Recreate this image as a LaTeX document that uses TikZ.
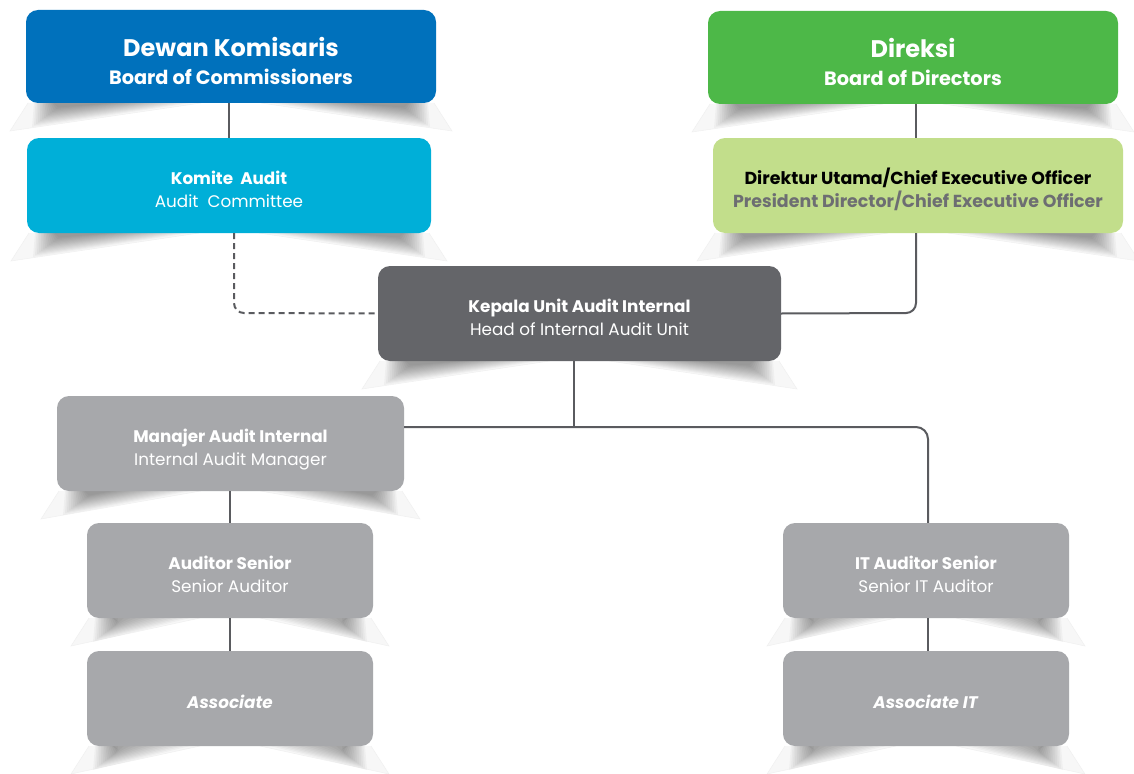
\documentclass[tikz,border=0pt]{standalone}
\usepackage{fontspec}
\setmainfont{Poppins}
\usetikzlibrary{calc}
\definecolor{cblue}{HTML}{0071BC}
\definecolor{ccyan}{HTML}{00AFD8}
\definecolor{cgreen}{HTML}{4DB848}
\definecolor{clgreen}{HTML}{C2DE8B}
\definecolor{cdgray}{HTML}{646569}
\definecolor{cgray}{HTML}{A7A8AB}
\definecolor{cline}{HTML}{5A5B5F}
\definecolor{ctxtgray}{HTML}{6D6E72}
\newcommand\topst[1]{\rule{0pt}{#1}}
\newcommand\botst[1]{\rule[-#1]{0pt}{0pt}}
\tikzset{
  orgbox/.style={rounded corners=12pt, inner sep=0pt, align=center, text=white},
  bigtxt/.style={font=\fontsize{19.3}{28}\selectfont\bfseries},
  smalltxt/.style={font=\fontsize{16.8}{23}\selectfont},
  conn/.style={draw=cline, line width=2pt},
  dconn/.style={draw=cline, line width=2pt, dash pattern=on 6pt off 4pt},
}
\begin{document}
\begin{tikzpicture}[x=1pt,y=-1pt]
\useasboundingbox[fill=white] (0,0) rectangle (1134,773);
% shadows
\foreach \xa/\xb/\yb in {26/436/103, 27/431/233, 708/1118/104, 713/1123/233, 378/781/361, 57/404/491, 87/373/618, 87/373/746, 783/1069/618, 783/1069/746}{
  \pgfmathsetmacro{\cc}{(\xa+\xb)/2}
  \fill[black, opacity=0.03] ({\xa+2},\yb) -- ({\xa-16},{\yb+28}) -- ({\cc-30},\yb) -- cycle;
  \fill[black, opacity=0.03] ({\xb-2},\yb) -- ({\xb+16},{\yb+28}) -- ({\cc+30},\yb) -- cycle;
  \draw[black!6, line width=0.5pt] ({\xa+2},\yb) -- ({\xa-16},{\yb+28}) -- ({\cc-30},\yb);
  \draw[black!6, line width=0.5pt] ({\xb-2},\yb) -- ({\xb+16},{\yb+28}) -- ({\cc+30},\yb);
  \foreach \k in {0,...,13}{
    \fill[black, opacity=0.032] ({\xa+8+1.5*\k},\yb) -- ({\xa+6+2*\k},{\yb+24-1.5*\k}) -- ({\cc-40-6*\k},\yb) -- cycle;
    \fill[black, opacity=0.032] ({\xb-8-1.5*\k},\yb) -- ({\xb-6-2*\k},{\yb+24-1.5*\k}) -- ({\cc+40+6*\k},\yb) -- cycle;
  }
}
% boxes
\node[orgbox, bigtxt, fill=cblue, minimum width=410pt, minimum height=93pt] (dk) at (231,56.5)
  {\topst{34pt}{\fontsize{24}{28}\selectfont Dewan Komisaris}\\Board of Commissioners\botst{6pt}};
\node[orgbox, smalltxt, fill=ccyan, minimum width=404pt, minimum height=95pt] (ka) at (229,185.5)
  {\topst{26pt}\textbf{Komite\ \ Audit}\\Audit\ \ Committee\botst{6pt}};
\node[orgbox, bigtxt, fill=cgreen, minimum width=410pt, minimum height=93pt] (dir) at (913,57.5)
  {\topst{34pt}{\fontsize{24}{28}\selectfont Direksi}\\Board of Directors\botst{6pt}};
\node[orgbox, fill=clgreen, minimum width=410pt, minimum height=95pt, font=\fontsize{17.4}{23}\selectfont\bfseries] (du) at (918,185.5)
  {\topst{26pt}\textcolor{black}{Direktur Utama/Chief Executive Officer}\\\textcolor{ctxtgray}{President Director/Chief Executive Officer}\botst{6pt}};
\node[orgbox, smalltxt, fill=cdgray, minimum width=403pt, minimum height=95pt] (kua) at (579.5,313.5)
  {\topst{26pt}\textbf{Kepala Unit Audit Internal}\\Head of Internal Audit Unit\botst{6pt}};
\node[orgbox, smalltxt, fill=cgray, minimum width=347pt, minimum height=95pt] (mai) at (230.5,443.5)
  {\topst{26pt}\textbf{Manajer Audit Internal}\\Internal Audit Manager\botst{6pt}};
\node[orgbox, smalltxt, fill=cgray, minimum width=286pt, minimum height=95pt] (as) at (230,570.5)
  {\topst{26pt}\textbf{Auditor Senior}\\Senior Auditor\botst{6pt}};
\node[orgbox, smalltxt, fill=cgray, minimum width=286pt, minimum height=95pt] (asc) at (230,698.5)
  {\topst{25pt}\textbf{\itshape Associate}\botst{6pt}};
\node[orgbox, smalltxt, fill=cgray, minimum width=286pt, minimum height=95pt] (its) at (926,570.5)
  {\topst{26pt}\textbf{IT Auditor Senior}\\Senior IT Auditor\botst{6pt}};
\node[orgbox, smalltxt, fill=cgray, minimum width=286pt, minimum height=95pt] (ait) at (926,698.5)
  {\topst{25pt}\textbf{\itshape Associate IT}\botst{6pt}};
% connectors
\coordinate (c1) at (229,103);
\coordinate (c2) at (916,104);
\coordinate (bend) at (574,427);
\draw[conn] (dk.south -| c1) -- (ka.north -| c1);
\draw[conn] (dir.south -| c2) -- (du.north -| c2);
\draw[dconn, rounded corners=10pt] (ka.south -| 234,0) -- (234,313) -- (kua.west);
\draw[conn, rounded corners=10pt] (du.south -| c2) -- (916,313) -- (kua.east);
\draw[conn] (kua.south -| bend) -- (bend);
\draw[conn, rounded corners=12pt] (mai.east |- bend) -- (928,427) -- (its.north -| 928,0);
\draw[conn] (mai.south -| as) -- (as.north);
\draw[conn] (as.south) -- (asc.north);
\draw[conn] (its.south -| 928,0) -- (ait.north -| 928,0);
\end{tikzpicture}
\end{document}
